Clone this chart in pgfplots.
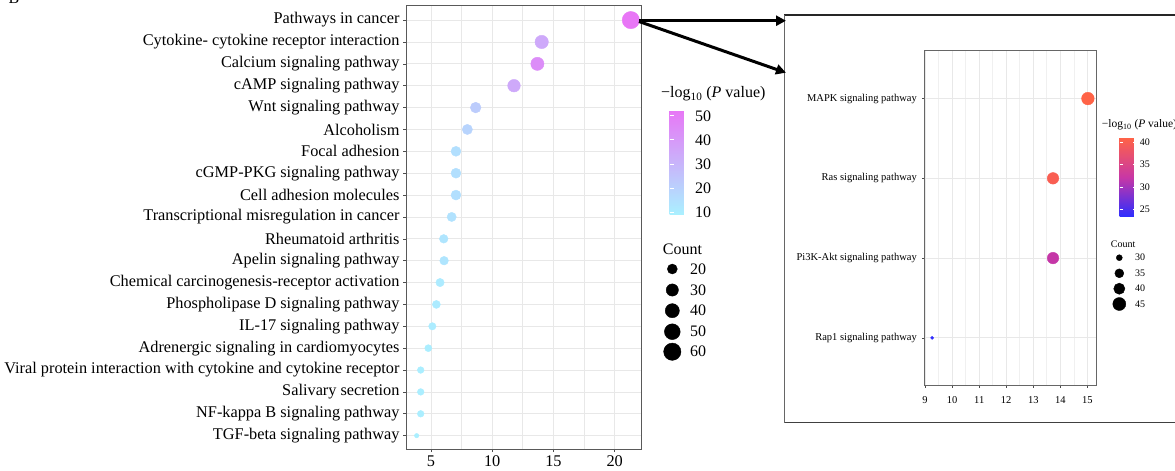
\documentclass[border=0pt]{standalone}
\usepackage{pgfplots}
\usepackage{pgfplotstable}
\pgfplotsset{compat=1.18}
\usepackage{fontspec}
\setmainfont{Liberation Serif}
\usetikzlibrary{arrows.meta}

% y = row (1 = bottom), x = value, count = gene count, logp = -log10(P)
\pgfplotstableread{
y x count logp
20 21.32 60 52
19 14.04 36 34
18 13.69 35 44
17 11.78 32 34
16 8.65 23 22
15 7.97 21 19
14 7.04 20 15
13 7.04 20 15
12 7.04 20 15
11 6.69 17 14
10 6.04 15 13
9 6.07 15 13
8 5.74 14 11
7 5.44 13 11
6 5.11 11 10.5
5 4.78 10 10
4 4.16 9 10
3 4.16 9 10
2 4.16 9 10
1 3.83 4 9.5
}\leftdata

\pgfplotstableread{
y x count logp
4 15.02 44 41
3 13.73 41 40
2 13.73 41 32
1 9.26 27 23.5
}\rightdata

% legend entries (pixel positions of the size keys)
\pgfplotstableread{
px py count
672.3 269.0 20
672.3 290.0 30
672.3 310.7 40
672.3 331.7 50
672.3 351.7 60
}\leftlegend

\pgfplotstableread{
px py count
1119.3 257.7 30
1119.3 273.3 35
1119.3 288.7 40
1119.3 304.0 45
}\rightlegend

\begin{document}
\begin{tikzpicture}
\useasboundingbox (0pt,0pt) rectangle (1175pt,-471pt);
\clip (0pt,0pt) rectangle (1175pt,-471pt);

% ---------------- left panel ----------------
\begin{axis}[
  at={(406pt,-449pt)}, anchor=south west,
  scale only axis, width=235pt, height=444pt,
  xmin=2.96, xmax=22.15, ymin=0.39, ymax=20.69,
  xtick={5,10,15,20}, minor xtick={2.5,7.5,12.5,17.5},
  ytick={1,...,20},
  yticklabels={TGF-beta signaling pathway,NF-kappa B signaling pathway,Salivary secretion,Viral protein interaction with cytokine and cytokine receptor,Adrenergic signaling in cardiomyocytes,IL-17 signaling pathway,Phospholipase D signaling pathway,Chemical carcinogenesis-receptor activation,Apelin signaling pathway,Rheumatoid arthritis,Transcriptional misregulation in cancer,Cell adhesion molecules,cGMP-PKG signaling pathway,Focal adhesion,Alcoholism,Wnt signaling pathway,cAMP signaling pathway,Calcium signaling pathway,Cytokine- cytokine receptor interaction,Pathways in cancer},
  xmajorgrids, xminorgrids, ymajorgrids,
  major grid style={draw=black!9, line width=0.7pt},
  minor grid style={draw=black!9, line width=0.7pt},
  axis line style={draw=black!65, line width=0.8pt},
  tick align=outside, xtick pos=left, ytick pos=left,
  major tick length=3pt, minor tick length=0pt,
  tick style={draw=black!70, line width=0.6pt},
  ticklabel style={font=\fontsize{16.3}{16.3}\selectfont, text=black},
  /pgf/number format/assume math mode=true,
  colormap={leftcm}{rgb255=(170,240,255) rgb255=(232,118,246)},
  point meta min=9.2, point meta max=52.4,
  colorbar,
  colorbar style={
    at={(parent axis.north east)}, anchor=north west,
    xshift=20pt, yshift=-105pt,
    scale only axis, width=22pt, height=104pt,
    ytick={10,20,30,40,50},
    axis line style={draw=none},
    tick align=inside, ytick pos=both, yticklabel pos=right,
    major tick length=4pt,
    ytick style={draw=white, line width=0.8pt},
    yticklabel style={font=\fontsize{16}{16}\selectfont, text=black},
    /pgf/number format/assume math mode=true,
  },
]
\addplot[scatter, only marks, mark=*,
  point meta=\thisrow{logp},
  scatter/use mapped color={draw=mapped color, fill=mapped color},
  visualization depends on={\thisrow{count} \as \cnt},
  scatter/@pre marker code/.append style={/tikz/mark size={0.5*sqrt(5*\cnt)}},
] table[x=x, y=y] {\leftdata};
\end{axis}

% ---------------- right panel ----------------
\begin{axis}[
  at={(924.3pt,-385.7pt)}, anchor=south west,
  scale only axis, width=171.7pt, height=335pt,
  xmin=8.97, xmax=15.32, ymin=0.4, ymax=4.6,
  xtick={9,...,15}, minor xtick={9.5,10.5,11.5,12.5,13.5,14.5},
  ytick={1,2,3,4},
  yticklabels={Rap1 signaling pathway,Pi3K-Akt signaling pathway,Ras signaling pathway,MAPK signaling pathway},
  xmajorgrids, xminorgrids, ymajorgrids,
  major grid style={draw=black!9, line width=0.7pt},
  minor grid style={draw=black!6, line width=0.6pt},
  axis line style={draw=black!60, line width=0.8pt},
  tick align=outside, xtick pos=left, ytick pos=left,
  major tick length=2pt, minor tick length=0pt,
  tick style={draw=black!70, line width=0.6pt},
  ticklabel style={font=\fontsize{10.5}{10.5}\selectfont, text=black},
  yticklabel style={xshift=-2pt},
  xticklabel style={yshift=-5pt},
  /pgf/number format/assume math mode=true,
  colormap={rightcm}{rgb255=(45,45,255) rgb255=(200,55,165) rgb255=(255,99,71)},
  point meta min=23.3, point meta max=41.0,
  colorbar,
  colorbar style={
    at={(parent axis.north east)}, anchor=north west,
    xshift=15pt, yshift=-87pt,
    scale only axis, width=16.7pt, height=79pt,
    ytick={25,30,35,40},
    axis line style={draw=none},
    tick align=inside, ytick pos=both, yticklabel pos=right,
    major tick length=3pt,
    ytick style={draw=white, line width=0.6pt},
    yticklabel style={font=\fontsize{10}{10}\selectfont, text=black},
    /pgf/number format/assume math mode=true,
  },
]
\addplot[scatter, only marks, mark=*,
  point meta=\thisrow{logp},
  scatter/use mapped color={draw=mapped color, fill=mapped color},
  visualization depends on={\thisrow{count} \as \cnt},
  scatter/@pre marker code/.append style={/tikz/mark size={0.5*sqrt(8.87*\cnt-230)}},
] table[x=x, y=y] {\rightdata};
\end{axis}

% ---------------- overlay: legends, frame, arrows ----------------
\begin{axis}[
  at={(0pt,-471pt)}, anchor=south west,
  scale only axis, width=1175pt, height=471pt,
  xmin=0, xmax=1175, ymin=0, ymax=471, y dir=reverse,
  hide axis, clip=false,
]
% size legend, left
\addplot[only marks, mark=*, black,
  visualization depends on={\thisrow{count} \as \cnt},
  scatter, scatter/use mapped color={draw=black, fill=black},
  scatter/@pre marker code/.append style={/tikz/mark size={0.5*sqrt(5*\cnt)}},
] table[x=px, y=py] {\leftlegend};
% size legend, right
\addplot[only marks, mark=*, black,
  visualization depends on={\thisrow{count} \as \cnt},
  scatter, scatter/use mapped color={draw=black, fill=black},
  scatter/@pre marker code/.append style={/tikz/mark size={0.5*sqrt(8.87*\cnt-230)}},
] table[x=px, y=py] {\rightlegend};

\begin{scope}[font=\fontsize{16}{16}\selectfont]
\node[anchor=west, inner sep=0pt] at (axis cs:661,94) {−log\textsubscript{10} (\textit{P} value)};
\node[anchor=west, inner sep=0pt] at (axis cs:662.7,249) {Count};
\node[anchor=west, inner sep=0pt] at (axis cs:690,269) {20};
\node[anchor=west, inner sep=0pt] at (axis cs:690,290) {30};
\node[anchor=west, inner sep=0pt] at (axis cs:690,310.7) {40};
\node[anchor=west, inner sep=0pt] at (axis cs:690,331.7) {50};
\node[anchor=west, inner sep=0pt] at (axis cs:690,351.7) {60};
\node[anchor=base, inner sep=0pt] at (axis cs:14,3) {B};
\end{scope}

\node[anchor=west, inner sep=0pt, font=\fontsize{11.5}{11.5}\selectfont] at (axis cs:1101.7,125) {−log\textsubscript{10} (\textit{P} value)};
\begin{scope}[font=\fontsize{10}{10}\selectfont]
\node[anchor=west, inner sep=0pt] at (axis cs:1110.7,244) {Count};
\node[anchor=west, inner sep=0pt] at (axis cs:1135,257.7) {30};
\node[anchor=west, inner sep=0pt] at (axis cs:1135,273.3) {35};
\node[anchor=west, inner sep=0pt] at (axis cs:1135,288.7) {40};
\node[anchor=west, inner sep=0pt] at (axis cs:1135,304) {45};
\end{scope}

% zoom frame
\draw[black!85, line width=1.8pt] (axis cs:784.3,15) -- (axis cs:1190,15);
\draw[black!75, line width=1.8pt] (axis cs:784.3,422.5) -- (axis cs:1190,422.5);
\draw[black!60, line width=0.8pt] (axis cs:784.3,15) -- (axis cs:784.3,422.5);

% arrows
\draw[black, line width=3pt, -{Triangle[length=10pt,width=10pt]}] (axis cs:639,20.7) -- (axis cs:786,20.7);
\draw[black, line width=3pt, -{Triangle[length=10pt,width=10pt]}] (axis cs:639,21.5) -- (axis cs:786,72.7);
\end{axis}
\end{tikzpicture}
\end{document}
